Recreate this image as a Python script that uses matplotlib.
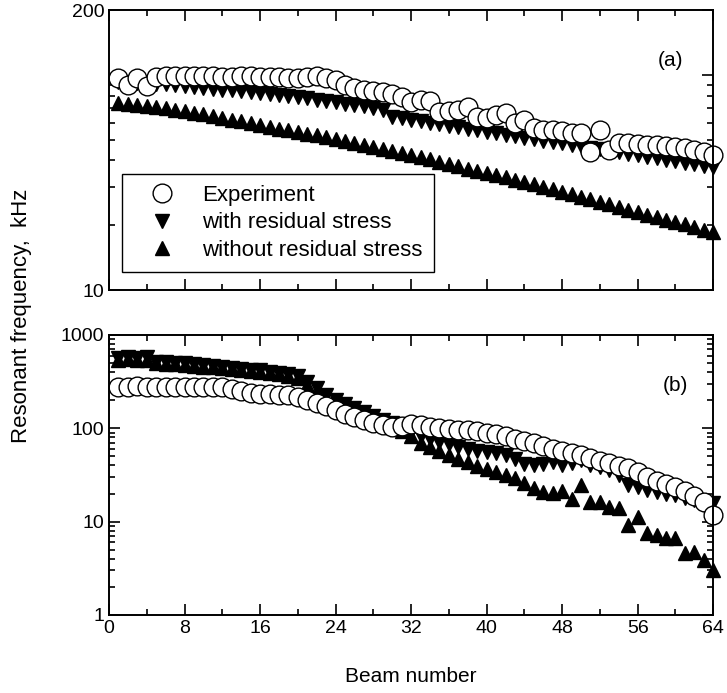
import numpy as np
import matplotlib
matplotlib.use('Agg')
import matplotlib.pyplot as plt
from matplotlib.ticker import FixedLocator, NullFormatter

plt.rcParams['font.family'] = ['Liberation Sans', 'DejaVu Sans']

# ── data (resonant frequency in kHz per beam) ────────────────────────────────
beams = np.arange(1, 65)

# (a) top panel
a_exp = [96.8, 89.8, 96.8, 88.9, 97.9, 98.9, 98.9, 98.9, 98.9, 98.9,
         98.9, 97.9, 97.9, 98.9, 98.9, 97.9, 97.9, 97.9, 96.8, 96.8,
         97.9, 98.9, 96.8, 94.8, 89.8, 87.0, 85.2, 84.3, 83.4, 81.6,
         79.0, 74.9, 76.5, 75.7, 67.3, 68.0, 68.8, 71.0, 63.8, 63.1,
         65.1, 66.6, 59.8, 61.8, 56.7, 55.5, 55.5, 54.9, 53.7, 53.7,
         43.8, 55.5, 44.8, 48.3, 48.3, 47.8, 47.3, 47.3, 46.7, 46.3,
         45.8, 44.8, 43.8, 42.5]
a_with = [92.7, 92.7, 91.8, 91.8, 90.8, 90.8, 89.8, 88.9, 87.9, 87.0,
          86.1, 85.2, 85.2, 84.3, 83.4, 82.5, 81.6, 80.7, 79.9, 79.0,
          78.2, 76.5, 75.7, 74.9, 73.3, 72.5, 71.7, 70.2, 68.8, 63.8,
          63.1, 61.8, 61.1, 59.8, 59.2, 57.9, 57.3, 56.1, 55.5, 54.3,
          53.7, 52.6, 52.0, 50.9, 50.4, 49.3, 48.8, 48.3, 47.3, 46.7,
          45.8, 45.3, 44.3, 43.8, 42.9, 42.5, 41.6, 41.1, 40.3, 39.8,
          39.0, 38.5, 37.7, 37.3]
a_without = [74.1, 73.3, 72.5, 71.7, 70.8, 69.9, 68.9, 68.0, 66.7, 65.5,
             64.3, 63.1, 61.9, 60.7, 59.6, 58.5, 57.4, 56.3, 55.3, 54.3,
             53.3, 52.3, 51.3, 50.4, 49.3, 48.3, 47.3, 46.3, 45.3, 44.4,
             43.4, 42.5, 41.5, 40.5, 39.5, 38.5, 37.6, 36.7, 35.8, 35.0,
             34.2, 33.4, 32.6, 31.8, 31.0, 30.2, 29.4, 28.6, 27.9, 27.1,
             26.4, 25.7, 25.0, 24.3, 23.6, 23.0, 22.4, 21.8, 21.2, 20.7,
             20.2, 19.6, 19.1, 18.6]

# (b) bottom panel
b_exp = [280, 276, 282, 278, 280, 278, 280, 279, 278, 280,
         277, 276, 264, 252, 240, 234, 234, 228, 228, 217,
         202, 187, 174, 157, 143, 132, 123, 114, 109, 103.5,
         106, 111, 109, 103.5, 101, 98.6, 96, 96, 93.8, 89.3,
         87, 82.9, 77, 73.3, 69.8, 64.8, 60.1, 57.3, 54.5, 52,
         48.2, 44.7, 42.6, 39.5, 37.6, 34.1, 30.1, 27.3, 25.4, 23.5,
         21.3, 18.8, 16.3, 11.8]
b_with = [568, 582, 568, 582, 515, 515, 502, 502, 490, 478,
          467, 455, 444, 433, 423, 423, 402, 393, 383, 365,
          314, 271, 228, 202, 183, 165, 150, 136, 123, 114,
          103.5, 91.5, 82.9, 77.0, 71.5, 68.0, 63.2, 60.1, 57.3, 55.8,
          54.5, 52.0, 47.0, 41.5, 40.5, 41.5, 43.6, 40.5, 42.6, 46.0,
          40.5, 38.6, 35.8, 31.7, 24.7, 23.5, 21.9, 20.8, 19.8, 19.3,
          17.9, 17.1, 15.1, 15.9]
b_without = [541, 554, 541, 541, 502, 490, 490, 478, 467, 455,
             455, 444, 433, 423, 412, 402, 393, 383, 365, 347,
             292, 246, 212, 187, 170, 154, 139, 126, 114, 103.5,
             93.8, 82.9, 69.8, 63.2, 57.3, 52.0, 47.0, 43.6, 39.5, 36.7,
             34.1, 31.7, 29.4, 26.0, 23.0, 20.8, 20.3, 21.3, 17.5, 24.7,
             16.3, 16.3, 14.4, 14.0, 9.2, 11.2, 7.6, 7.2, 6.7, 6.7,
             4.6, 4.7, 3.9, 3.0]

x_ticks = [0, 8, 16, 24, 32, 40, 48, 56, 64]

# ── figure ───────────────────────────────────────────────────────────────────
fig = plt.figure(figsize=(7.27, 6.93), dpi=100)
ax_a = fig.add_axes([0.150, 0.5815, 0.831, 0.404])
ax_b = fig.add_axes([0.150, 0.1126, 0.831, 0.404])

def draw(ax, exp, wth, wout):
    ax.plot(beams, wout, linestyle='none', marker='^', ms=10, color='black',
            label='without residual stress', zorder=3, clip_on=False)
    ax.plot(beams, wth, linestyle='none', marker='v', ms=10, color='black',
            label='with residual stress', zorder=3, clip_on=False)
    ax.plot(beams, exp, linestyle='none', marker='o', ms=13.5, mfc='white',
            mec='black', mew=1.0, label='Experiment', zorder=4, clip_on=False)
    ax.set_yscale('log')
    ax.set_xlim(0, 64)
    ax.xaxis.set_major_locator(FixedLocator(x_ticks))
    ax.xaxis.set_minor_locator(FixedLocator([4, 12, 20, 28, 36, 44, 52, 60]))
    ax.tick_params(which='both', direction='in', top=True, right=True,
                   labelsize=14, width=1.2)
    ax.tick_params(which='major', length=8)
    ax.tick_params(which='minor', length=4)
    for s in ax.spines.values():
        s.set_linewidth(1.4)
        s.set_zorder(5)

draw(ax_a, a_exp, a_with, a_without)
draw(ax_b, b_exp, b_with, b_without)

# top panel axis
ax_a.set_ylim(10, 200)
ax_a.yaxis.set_major_locator(FixedLocator([10, 100, 200]))
ax_a.set_yticklabels(['10', '', '200'])
ax_a.yaxis.set_minor_locator(FixedLocator([20, 30, 40, 50, 60, 70, 80, 90]))
ax_a.yaxis.set_minor_formatter(NullFormatter())
ax_a.set_xticklabels([])
ax_a.text(0.929, 0.82, '(a)', transform=ax_a.transAxes, fontsize=15,
          ha='center', va='center')

h, l = ax_a.get_legend_handles_labels()
order = [2, 1, 0]
leg = ax_a.legend([h[i] for i in order], [l[i] for i in order],
                  loc='lower left', bbox_to_anchor=(0.0215, 0.064), fontsize=16,
                  frameon=True, fancybox=False, edgecolor='black',
                  framealpha=1, handletextpad=0.5, borderpad=0.5,
                  labelspacing=0.3, handlelength=2.6, borderaxespad=0)
leg.get_frame().set_linewidth(1.0)
leg.set_zorder(6)

# bottom panel axis
ax_b.set_ylim(1, 1000)
ax_b.yaxis.set_major_locator(FixedLocator([1, 10, 100, 1000]))
ax_b.set_yticklabels(['1', '10', '100', '1000'])
minors = [m * d for d in (1, 10, 100) for m in range(2, 10)]
ax_b.yaxis.set_minor_locator(FixedLocator(minors))
ax_b.yaxis.set_minor_formatter(NullFormatter())
ax_b.set_xticklabels([str(t) for t in x_ticks])
ax_b.text(0.937, 0.82, '(b)', transform=ax_b.transAxes, fontsize=15,
          ha='center', va='center')

ax_b.set_xlabel('Beam number', fontsize=15, labelpad=22)
fig.text(0.030, 0.545, 'Resonant frequency,  kHz', rotation=90, fontsize=16,
         ha='center', va='center')

fig.savefig('out.png', dpi=100)
